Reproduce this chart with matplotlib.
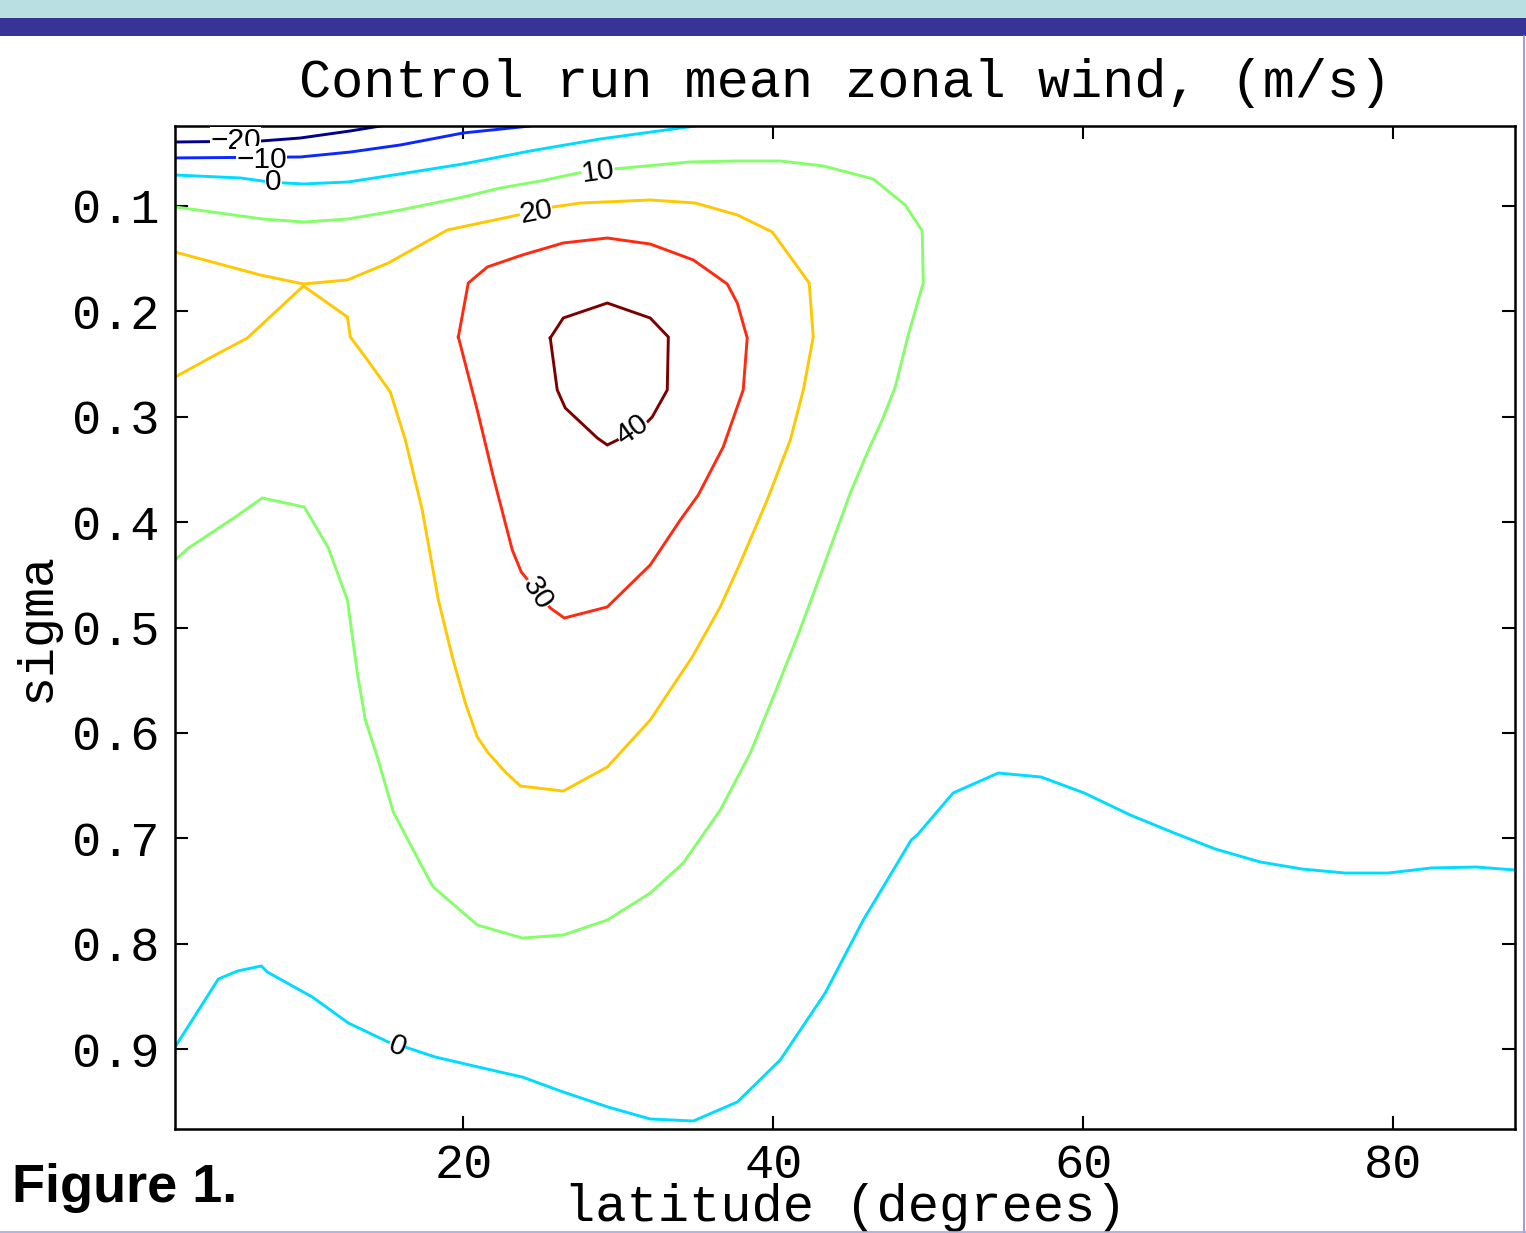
import matplotlib.pyplot as plt
from matplotlib.patches import Rectangle
from matplotlib.lines import Line2D

# contour levels of the mean zonal wind (m/s)
levels = [-20, -10, 0, 10, 20, 30, 40]

# contour paths: latitude (degrees), sigma
lat_m20 = [1.40, 6.97, 9.48, 12.71, 14.65]
sig_m20 = [0.0393, 0.0383, 0.0355, 0.0288, 0.0241]

lat_m10 = [1.40, 9.48, 12.71, 15.94, 20.00, 24.32]
sig_m10 = [0.0544, 0.0535, 0.0488, 0.0421, 0.0307, 0.0241]

lat_0_top = [1.40, 5.61, 7.03, 8.52, 9.68, 12.58, 15.94, 20.00, 24.32, 28.84, 34.97]
sig_0_top = [0.0706, 0.0734, 0.0763, 0.0782, 0.0791, 0.0772, 0.0696, 0.0601, 0.0478, 0.0364, 0.0241]

lat_10 = [1.40, 7.03, 9.74, 12.58, 15.94, 20.00, 22.39, 24.97, 27.42, 29.68, 34.65, 37.68,
          40.45, 43.23, 46.45, 48.52, 49.61, 49.68, 48.71, 47.87, 47.03, 46.06, 44.97, 43.16,
          41.55, 40.00, 38.52, 36.58, 34.19, 32.06, 29.29, 26.45, 23.81, 20.90, 18.06, 17.35,
          15.48, 14.45, 13.68, 13.16, 12.52, 11.29, 9.74, 7.03, 5.29, 2.26, 1.40]
sig_10 = [0.1009, 0.1123, 0.1152, 0.1123, 0.1038, 0.0915, 0.0829, 0.0763, 0.0687, 0.0649, 0.0582, 0.0573,
          0.0573, 0.0620, 0.0744, 0.0991, 0.1237, 0.1731, 0.2224, 0.2718, 0.3031, 0.3344, 0.3724, 0.4454,
          0.5090, 0.5660, 0.6191, 0.6732, 0.7235, 0.7520, 0.7776, 0.7918, 0.7947, 0.7823, 0.7463, 0.7273,
          0.6751, 0.6229, 0.5878, 0.5432, 0.4739, 0.4246, 0.3857, 0.3771, 0.3951, 0.4246, 0.4359]

lat_20 = [1.40, 6.90, 9.68, 12.52, 15.16, 18.97, 23.55, 25.81, 27.55, 32.06, 34.97, 37.68, 39.94,
          42.32, 42.58, 41.94, 41.10, 39.61, 37.87, 36.58, 34.77, 32.06, 29.29, 26.45, 23.68, 22.71,
          21.61, 20.90, 20.13, 19.29, 18.39, 17.35, 16.26, 15.29, 13.81, 12.71, 12.52, 9.68, 6.06,
          4.00, 1.40]
sig_20 = [0.1437, 0.1655, 0.1740, 0.1702, 0.1541, 0.1228, 0.1085, 0.1009, 0.0972, 0.0943, 0.0972, 0.1085, 0.1247,
          0.1731, 0.2243, 0.2746, 0.3221, 0.3790, 0.4388, 0.4805, 0.5280, 0.5878, 0.6324, 0.6552, 0.6504, 0.6371,
          0.6191, 0.6039, 0.5716, 0.5280, 0.4739, 0.3885, 0.3221, 0.2765, 0.2461, 0.2243, 0.2053, 0.1759, 0.2253,
          0.2414, 0.2623]

lat_30 = [19.68, 20.32, 21.55, 23.81, 26.45, 29.29, 32.06, 34.84, 37.03, 37.68, 38.32, 38.06, 36.77,
          35.16, 34.00, 32.06, 29.29, 26.52, 25.61, 23.74, 23.16, 21.94, 20.90, 19.68]
sig_30 = [0.2243, 0.1731, 0.1579, 0.1465, 0.1351, 0.1304, 0.1361, 0.1512, 0.1740, 0.1921, 0.2253, 0.2746, 0.3287,
          0.3743, 0.3980, 0.4407, 0.4805, 0.4910, 0.4815, 0.4473, 0.4265, 0.3572, 0.2936, 0.2243]

lat_40 = [25.61, 26.45, 29.29, 32.06, 33.23, 33.16, 32.19, 31.87, 29.94, 29.29, 28.65, 26.58, 26.06, 25.61]
sig_40 = [0.2253, 0.2063, 0.1921, 0.2063, 0.2243, 0.2746, 0.3002, 0.3050, 0.3221, 0.3268, 0.3202, 0.2917,
          0.2746, 0.2253]

lat_0_low = [1.40, 4.19, 5.42, 6.97, 7.35, 10.26, 12.58, 15.16, 16.45, 18.19, 20.97, 23.81, 26.45, 29.35,
             32.06, 34.84, 37.68, 40.45, 43.35, 45.81, 47.94, 48.90, 49.29, 51.61, 54.52, 57.29, 60.06,
             63.03, 65.87, 68.52, 71.42, 74.13, 76.90, 79.68, 82.45, 85.35, 87.86]
sig_0_low = [0.8981, 0.8336, 0.8260, 0.8212, 0.8269, 0.8507, 0.8753, 0.8934, 0.8991, 0.9076, 0.9171, 0.9266,
             0.9408, 0.9551, 0.9664, 0.9683, 0.9503, 0.9104, 0.8469, 0.7776, 0.7254, 0.7017, 0.6969, 0.6570,
             0.6381, 0.6419, 0.6570, 0.6779, 0.6950, 0.7102, 0.7225, 0.7292, 0.7330, 0.7330, 0.7282, 0.7273,
             0.7301]

colors = {-20: '#00008c', -10: '#0a28ff', 0: '#00dcff', 10: '#84ff6a',
          20: '#ffc800', 30: '#ff2a10', 40: '#7c0000'}

paths = [(-20, lat_m20, sig_m20), (-10, lat_m10, sig_m10), (0, lat_0_top, sig_0_top),
         (10, lat_10, sig_10), (20, lat_20, sig_20), (30, lat_30, sig_30),
         (40, lat_40, sig_40), (0, lat_0_low, sig_0_low)]

fig = plt.figure(figsize=(15.26, 12.33), dpi=100)

# slide header bands and frame lines
fig.add_artist(Rectangle((0, 1 - 18 / 1233), 1, 18 / 1233, transform=fig.transFigure,
                         facecolor='#badfe2', edgecolor='none'))
fig.add_artist(Rectangle((0, 1 - 36 / 1233), 1, 18 / 1233, transform=fig.transFigure,
                         facecolor='#363596', edgecolor='none'))
fig.add_artist(Line2D([1523.5 / 1526, 1523.5 / 1526], [0, 1 - 36 / 1233], transform=fig.transFigure,
                      color='#8e8ed0', lw=1.2))
fig.add_artist(Line2D([0, 1], [1.5 / 1233, 1.5 / 1233], transform=fig.transFigure,
                      color='#a6a6de', lw=1.2))

ax = fig.add_axes([175 / 1526, 104 / 1233, 1340 / 1526, 1003 / 1233])

for lev, la, si in paths:
    ax.plot(la, si, color=colors[lev], lw=2.1, solid_joinstyle='miter')

# inline contour labels
labels = [(-20, 5.3, 0.0385, 0), (-10, 6.97, 0.0568, 0), (0, 7.74, 0.0775, 0),
          (10, 28.7, 0.0677, 8), (20, 24.7, 0.1057, 11), (30, 24.8, 0.4673, -57),
          (40, 30.9, 0.3126, 35), (0, 15.74, 0.8972, -21)]
for lev, x, y, rot in labels:
    ax.text(x, y, str(lev).replace('-', '\u2212'), family='Liberation Sans', fontsize=21.5,
            ha='center', va='center', rotation=rot, rotation_mode='anchor', zorder=5,
            bbox=dict(facecolor='white', edgecolor='none', pad=0))

ax.set_xlim(1.3953, 87.8638)
ax.set_ylim(0.9759, 0.0241)
ax.set_xticks([20, 40, 60, 80])
ax.set_yticks([0.1, 0.2, 0.3, 0.4, 0.5, 0.6, 0.7, 0.8, 0.9])
ax.set_yticklabels(['0.1', '0.2', '0.3', '0.4', '0.5', '0.6', '0.7', '0.8', '0.9'])
ax.tick_params(direction='in', length=9.5, width=1.5, top=True, right=True,
               labelsize=35, pad=10)
ax.tick_params(axis='y', pad=11)
for lab in ax.get_xticklabels() + ax.get_yticklabels():
    lab.set_family('Liberation Mono')
for sp in ax.spines.values():
    sp.set_linewidth(1.8)

ax.set_title('Control run mean zonal wind, (m/s)', family='Liberation Mono', fontsize=38.6, pad=21)
ax.set_xlabel('latitude (degrees)', family='Liberation Mono', fontsize=37.5)
ax.xaxis.set_label_coords(0.5, -0.0915)
ax.xaxis.label.set_va('baseline')
ax.set_ylabel('sigma', family='Liberation Mono', fontsize=36)
ax.yaxis.set_label_coords(-0.103, 0.5)
ax.yaxis.label.set_va('center')

fig.text(12 / 1526, 1 - 1202 / 1233, 'Figure 1.', family='Liberation Sans', fontweight='bold',
         fontsize=39, va='baseline', ha='left')

fig.savefig('out.png', dpi=100)
